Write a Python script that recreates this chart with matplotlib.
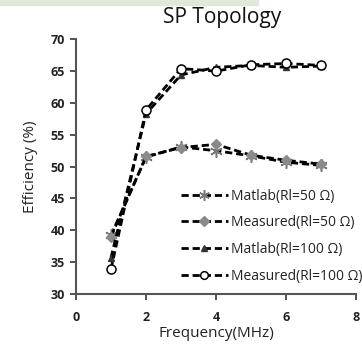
import matplotlib
matplotlib.use("Agg")
import matplotlib.pyplot as plt
from matplotlib.patches import Rectangle

freq = [1, 2, 3, 4, 5, 6, 7]
matlab_50 = [39.2, 51.5, 53.1, 52.5, 51.7, 50.7, 50.2]
measured_50 = [39.0, 51.6, 53.0, 53.5, 51.8, 51.0, 50.4]
matlab_100 = [35.7, 58.3, 64.4, 65.6, 65.9, 65.6, 65.8]
measured_100 = [33.9, 58.9, 65.4, 65.0, 66.0, 66.2, 65.9]
labels = ["Matlab(Rl=50 Ω)", "Measured(Rl=50 Ω)", "Matlab(Rl=100 Ω)", "Measured(Rl=100 Ω)"]
xticks = [0, 2, 4, 6, 8]
yticks = [30, 35, 40, 45, 50, 55, 60, 65, 70]

plt.rcParams['font.family'] = ['Open Sans', 'DejaVu Sans']

fig = plt.figure(figsize=(3.62, 3.47), dpi=100)
ax = fig.add_axes([76/362, 1-294/347, 280/362, (294-39.3)/347])

# faint band artifact at top
fig.patches.append(Rectangle((0, 1-5/347), 258/362, 5/347, transform=fig.transFigure,
                             color='#dfe8da', zorder=0))

ls = dict(color='black', linestyle=(0, (2.6, 1.4)), linewidth=2.0)
ax.plot(freq, matlab_50, marker=(6, 2, 0), markersize=9, markeredgecolor='#777777',
        markeredgewidth=1.1, label=labels[0], **ls)
ax.plot(freq, measured_50, marker='D', markersize=5.5, markerfacecolor='#8a8a8a',
        markeredgecolor='#8a8a8a', label=labels[1], **ls)
ax.plot(freq, matlab_100, marker='^', markersize=4.5, markerfacecolor='#333333',
        markeredgecolor='#333333', label=labels[2], **ls)
ax.plot(freq, measured_100, marker='o', markersize=6.5, markerfacecolor='white',
        markeredgecolor='black', markeredgewidth=1.1, label=labels[3], **ls)

ax.set_xlim(0, 8)
ax.set_ylim(30, 70)
ax.set_xticks(xticks)
ax.set_yticks(yticks)
for s in ['top', 'right']:
    ax.spines[s].set_visible(False)
for s in ['left', 'bottom']:
    ax.spines[s].set_color('#555555')
    ax.spines[s].set_linewidth(1.5)
ax.tick_params(axis='both', direction='out', length=4, width=1.3, color='#444444',
               labelsize=9, labelcolor='#222222')
ax.tick_params(axis='x', pad=8)
ax.tick_params(axis='y', pad=4)
for t in ax.get_xticklabels() + ax.get_yticklabels():
    t.set_fontweight('bold')

ax.set_xlabel('Frequency(MHz)', fontsize=11, color='#222222', labelpad=2)
ax.set_ylabel('Efficiency (%)', fontsize=11, color='#222222', labelpad=9)
fig.text(222/362, 1-18/347, 'SP Topology', fontsize=15, ha='center', va='center', color='#111111')

leg = ax.legend(loc='upper left', bbox_to_anchor=(99/280, (294-183)/(294-39.3)), frameon=False,
                fontsize=10, handlelength=3.4, handletextpad=0.25, labelspacing=0.85,
                borderaxespad=0, markerscale=0.85)
for t in leg.get_texts():
    t.set_color('#222222')

fig.savefig('out.png', dpi=100)
